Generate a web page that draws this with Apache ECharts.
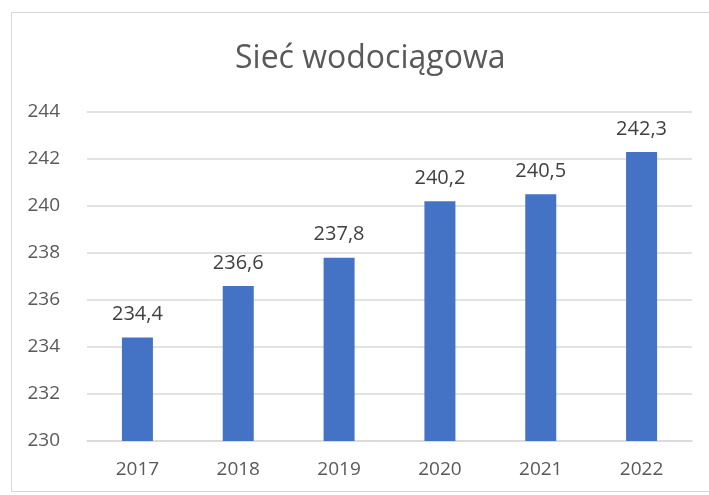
<!DOCTYPE html>
<html>
<head>
<meta charset="utf-8">
<script src="https://cdn.jsdelivr.net/npm/echarts@6/dist/echarts.min.js"></script>
<style>
  html, body { margin: 0; padding: 0; background: #fff; }
  #frame { position: absolute; left: 11px; top: 12px; width: 700px; height: 480px; border: 1px solid #d9d9d9; box-sizing: border-box; }
  #chart { position: absolute; left: 0; top: 0; width: 709px; height: 495px; }
</style>
</head>
<body>
<div id="frame"></div>
<div id="chart"></div>
<script>
const years = ['2017', '2018', '2019', '2020', '2021', '2022']
const lengths = [234.4, 236.6, 237.8, 240.2, 240.5, 242.3]

const myChart = echarts.init(document.getElementById('chart'))
const font = "'Open Sans', 'Liberation Sans', sans-serif"

myChart.setOption({
  animation: false,
  title: {
    text: 'Sieć wodociągowa',
    left: 230,
    top: 38,
    textStyle: { fontFamily: font, fontSize: 32, fontWeight: 'normal', color: '#595959' }
  },
  grid: { left: 87, right: 17, top: 112, bottom: 54 },
  xAxis: {
    type: 'category',
    data: years,
    axisLine: { show: true, lineStyle: { color: '#d9d9d9', width: 1.5 } },
    axisTick: { show: false },
    axisLabel: { fontFamily: font, fontSize: 19, color: '#595959', margin: 19 }
  },
  yAxis: {
    type: 'value',
    min: 230,
    max: 244,
    interval: 2,
    axisLine: { show: false },
    axisTick: { show: false },
    splitLine: { lineStyle: { color: '#d9d9d9', width: 1.5 } },
    axisLabel: { fontFamily: font, fontSize: 19, color: '#595959', margin: 27 }
  },
  series: [{
    type: 'bar',
    data: lengths,
    barWidth: 31,
    itemStyle: { color: '#4472c4' },
    label: {
      show: true,
      position: 'top',
      distance: 13,
      fontFamily: font,
      fontSize: 20,
      color: '#404040',
      formatter: (p) => p.value.toFixed(1).replace('.', ',')
    }
  }]
})
</script>
</body>
</html>
